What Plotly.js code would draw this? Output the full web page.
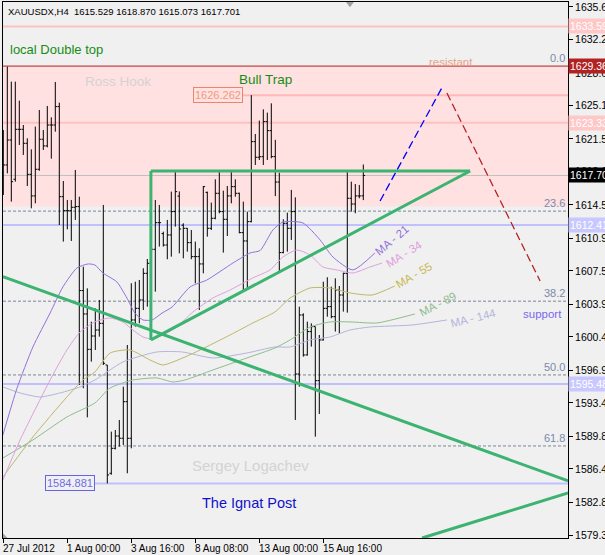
<!DOCTYPE html>
<html><head><meta charset="utf-8">
<script src="https://cdn.plot.ly/plotly-3.0.1.min.js"></script>
<style>html,body{margin:0;padding:0;background:#F0F0F0;}#chart{width:605px;height:555px;}</style>
</head><body><div id="chart"></div>
<script>
// ---- bar data (H4 bars, index 0 = 27 Jul 2012 08:00) ----
const barIdx = [0,1,2,3,4,5,6,7,8,9,10,11,12,13,14,15,16,17,18,19,20,21,22,23,24,25,26,27,28,29,30,31,32,33,34,35,36,37,38,39,40,41,42,43,44,45,46,47,48,49,50,51,52,53,54,55,56,57,58,59,60,61,62,63,64,65,66,67,68,69,70,71,72,73,74,75,76,77,78,79,80,81,82,83,84,85,86,87,88,89,90];
const opens = [1620.5,1618.82,1621.48,1617.3,1622.62,1622.62,1621.13,1617.82,1615.52,1618.36,1621.56,1620.85,1623.08,1623.08,1625.04,1615.44,1613.95,1613.95,1614.31,1614.38,1605.43,1602.94,1599.17,1600.59,1601.23,1601.94,1597.5,1585.96,1588.62,1589.93,1589.69,1593.59,1589.69,1602.3,1603.54,1604.43,1607.27,1608.34,1609.83,1612.67,1611.5,1610.29,1611.36,1613.85,1615.5,1612.4,1612.07,1610.54,1609.05,1609.05,1608.27,1615.9,1612.07,1613.14,1615.8,1613.85,1613.03,1615.52,1616.51,1615.8,1611.61,1610.72,1612.78,1621.31,1619.64,1619.7,1623.44,1622.48,1619.71,1617.0,1609.48,1612.6,1612.07,1613.85,1596.54,1602.83,1598.57,1601.06,1601.59,1595.83,1600.17,1603.54,1603.72,1602.65,1605.5,1604.96,1607.27,1615.27,1614.66,1615.52,1615.529];
const highs = [1622.55,1629.3,1627.7,1627.7,1625.68,1623.08,1621.66,1620.49,1622.91,1624.68,1622.55,1625.11,1623.9,1627.67,1625.46,1617.11,1615.09,1615.09,1618.29,1615.44,1607.98,1605.67,1602.12,1603.54,1604.43,1614.56,1597.5,1590.4,1590.57,1591.64,1595.19,1599.63,1606.21,1606.38,1606.56,1607.81,1608.8,1610.12,1615.09,1614.56,1611.71,1612.96,1615.98,1618.11,1616.0,1612.6,1612.1,1611.89,1610.65,1609.94,1616.58,1615.98,1614.81,1617.29,1618.18,1616.08,1616.58,1618.11,1617.29,1615.87,1614.91,1613.85,1626.262,1622.12,1623.55,1624.75,1624.4,1625.39,1621.5,1618.0,1613.03,1613.74,1616.16,1615.37,1603.72,1603.01,1602.12,1601.94,1601.59,1600.7,1606.38,1606.85,1605.85,1606.74,1605.92,1607.34,1618.11,1617.04,1616.79,1616.69,1618.87];
const lows = [1615.62,1617.93,1614.91,1617.04,1620.95,1619.89,1616.58,1614.2,1614.73,1618.2,1620.42,1620.7,1619.49,1622.37,1612.42,1610.65,1611.96,1610.72,1612.96,1595.37,1595.02,1591.92,1597.86,1599.1,1600.52,1597.5,1584.881,1585.8,1588.5,1588.8,1588.98,1585.96,1588.62,1601.59,1601.94,1603.36,1603.72,1605.5,1605.32,1610.12,1610.12,1608.77,1609.05,1612.25,1609.4,1608.87,1609.58,1608.77,1606.21,1603.36,1607.27,1611.18,1611.89,1613.03,1613.67,1609.48,1611.25,1614.73,1615.44,1611.54,1605.5,1605.67,1612.7,1618.82,1619.35,1618.82,1619.35,1619.53,1615.5,1607.45,1609.4,1609.58,1610.83,1591.64,1595.19,1598.39,1598.5,1599.46,1589.86,1592.28,1600.1,1602.65,1602.48,1601.06,1600.88,1603.19,1603.08,1613.85,1613.67,1615.27,1615.073];
const closes = [1618.82,1621.48,1617.04,1622.62,1622.62,1621.13,1617.82,1615.52,1618.36,1621.56,1620.85,1623.08,1623.08,1625.04,1615.44,1613.95,1613.95,1614.31,1614.38,1605.43,1602.94,1599.17,1600.59,1601.23,1601.94,1597.68,1585.78,1588.62,1589.93,1589.69,1593.59,1589.69,1602.3,1603.54,1604.43,1607.27,1608.34,1609.83,1612.67,1612.67,1610.29,1611.36,1613.85,1615.98,1612.0,1612.07,1610.54,1609.05,1609.05,1608.27,1616.51,1612.07,1613.14,1615.8,1613.85,1613.03,1615.52,1616.51,1615.8,1611.61,1610.72,1612.78,1621.31,1619.64,1619.7,1623.44,1622.48,1619.71,1617.0,1609.48,1612.6,1612.07,1613.85,1596.54,1602.83,1598.57,1601.06,1601.59,1595.83,1600.17,1603.54,1603.72,1602.65,1605.5,1604.96,1607.27,1615.27,1614.66,1615.52,1615.52,1617.701];

// ---- moving averages (bar index, price) ----
const ma21X = [-0.1,3.4,7.4,11.7,14.9,18.4,21.2,22.9,24.9,28.4,30.9,32.9,34.9,37.2,39.7,42.2,46.7,50.9,57.4,61.7,64.2,67.4,69.9,74.9,79.2,82.4,87.4,92.9];
const ma21Y = [1590.04,1594.99,1599.42,1603.04,1605.82,1607.84,1608.27,1608.16,1607.31,1606.35,1604.64,1603.04,1602.30,1602.30,1603.04,1603.68,1605.82,1606.56,1608.37,1609.44,1609.7,1611.89,1612.74,1612.64,1610.83,1609.01,1607.63,1609.44];
const ma34X = [-0.1,4.2,11.7,15.9,19.2,22.9,26.7,29.9,32.4,34.9,37.2,39.9,43.4,47.4,52.4,56.7,62.4,66.7,69.9,73.4,76.7,79.9,83.4,87.4,91.7,94.7];
const ma34Y = [1585.24,1589.51,1595.90,1599.10,1601.02,1602.09,1602.51,1602.09,1601.23,1600.49,1600.27,1600.70,1601.55,1603.15,1604.64,1605.50,1606.78,1607.63,1609.01,1609.76,1609.22,1607.95,1607.63,1607.31,1607.95,1608.37];
const ma55X = [-0.1,7.4,15.9,19.9,22.9,26.7,31.7,36.7,39.9,45.4,49.2,56.7,62.4,67.9,71.7,76.7,81.7,86.7,92.2,97.9];
const ma55Y = [1585.56,1589.83,1594.09,1595.90,1596.76,1598.78,1599.10,1598.03,1597.50,1598.35,1599.10,1600.70,1601.98,1603.15,1604.64,1605.71,1605.71,1605.18,1604.96,1605.92];
const ma89X = [-0.1,7.4,15.9,22.9,26.7,32.4,38.4,42.4,45.4,52.4,60.9,67.9,71.7,76.7,81.7,86.7,93.4,102.9];
const ma89Y = [1587.59,1589.51,1591.96,1593.45,1595.05,1595.90,1596.12,1595.69,1595.90,1596.97,1598.25,1599.31,1600.17,1601.55,1602.09,1602.09,1601.98,1602.94];
const ma144X = [-0.1,4.2,9.2,14.2,19.2,22.9,29.9,38.4,44.7,52.4,60.9,67.9,71.7,76.7,81.7,86.7,91.7,102.4,110.9];
const ma144Y = [1595.16,1594.52,1594.09,1594.52,1595.16,1595.90,1597.82,1598.89,1598.89,1598.25,1598.78,1599.42,1599.42,1600.17,1600.49,1601.23,1601.55,1601.77,1602.30];

// ---- axis ticks ----
const yTicks = [1635.66,1632.20,1628.63,1625.16,1621.59,1618.12,1614.56,1610.99,1607.52,1603.95,1600.49,1596.92,1593.45,1589.88,1586.42,1582.85,1579.38];
const xTickBars = [0,16,32,48,64,80];
const xTickText = ['27 Jul 2012','1 Aug 00:00','3 Aug 16:00','8 Aug 08:00','13 Aug 00:00','15 Aug 16:00'];

// ---- levels / objects ----
const resistTop = 1629.36, resistBottom = 1614.4;
const pinkLevels = [1633.59, 1623.33];
const blueLevels = [1612.41, 1595.48];
const bidPrice = 1617.70;
const highMark = 1626.262, lowMark = 1584.881;
const fibNames = ['23.6','38.2','50.0','61.8'];
const fibPrices = [1613.90,1604.30,1596.44,1588.87];
// trendlines [x0,y0,x1,y1]
const downTrend = [-0.1,1606.91,141.2,1585.14];
const upTrend = [104.7,1579.06,141.2,1583.86];
const trapLeft = 36.9, trapRight = 116.7, trapTop = 1618.18, trapBottom = 1600.17;
const fcUp = [94.2,1614.98,109.9,1627.24];
const fcDown = [110.9,1626.49,134.2,1606.46];

const F = 'Liberation Sans, Arial, sans-serif';
const maColors = {21:'#9370DB',34:'#DDA0DD',55:'#BDB76B',89:'#8FBC8F',144:'#B4B4DC'};

function maTrace(x,y,c){return {type:'scatter',mode:'lines',x:x,y:y,line:{color:c,width:1,shape:'spline',smoothing:0.6},hoverinfo:'skip',showlegend:false};}

const traces = [
  maTrace(ma144X,ma144Y,maColors[144]),
  maTrace(ma89X,ma89Y,maColors[89]),
  maTrace(ma55X,ma55Y,maColors[55]),
  maTrace(ma34X,ma34Y,maColors[34]),
  maTrace(ma21X,ma21Y,maColors[21]),
  {type:'ohlc',x:barIdx,open:opens,high:highs,low:lows,close:closes,
   increasing:{line:{color:'#000000',width:1}},decreasing:{line:{color:'#000000',width:1}},
   tickwidth:0.45,hoverinfo:'skip',showlegend:false}
];

const shapes = [];
shapes.push({type:'rect',xref:'paper',x0:0,x1:1,yref:'y',y0:resistBottom,y1:resistTop,fillcolor:'#FFE1E1',line:{width:0},layer:'below'});
fibPrices.forEach(p=>shapes.push({type:'line',xref:'paper',x0:0,x1:1,yref:'y',y0:p,y1:p,line:{color:'#7A8699',width:1,dash:'3px,2px'},layer:'below'}));
pinkLevels.forEach(p=>shapes.push({type:'line',xref:'paper',x0:0,x1:1,yref:'y',y0:p,y1:p,line:{color:'#FFC0C0',width:2},layer:'below'}));
blueLevels.forEach(p=>shapes.push({type:'line',xref:'paper',x0:0,x1:1,yref:'y',y0:p,y1:p,line:{color:'#C0C0FF',width:2},layer:'below'}));
shapes.push({type:'line',xref:'x',x0:59.7,x1:141.2,yref:'y',y0:highMark,y1:highMark,line:{color:'#FFB8B8',width:2},layer:'below'});
shapes.push({type:'line',xref:'x',x0:22.4,x1:141.2,yref:'y',y0:lowMark,y1:lowMark,line:{color:'#C0C0FF',width:2},layer:'below'});
shapes.push({type:'line',xref:'paper',x0:0,x1:1,yref:'y',y0:bidPrice,y1:bidPrice,line:{color:'#C0C0C0',width:1},layer:'below'});
shapes.push({type:'line',xref:'paper',x0:0,x1:1,yref:'y',y0:resistTop,y1:resistTop,line:{color:'#B22222',width:1},layer:'below'});
const G = {color:'#3CB371',width:3};
shapes.push({type:'line',x0:downTrend[0],y0:downTrend[1],x1:downTrend[2],y1:downTrend[3],line:G});
shapes.push({type:'line',x0:upTrend[0],y0:upTrend[1],x1:upTrend[2],y1:upTrend[3],line:G});
shapes.push({type:'line',x0:trapLeft,y0:trapBottom,x1:trapLeft,y1:trapTop,line:G});
shapes.push({type:'line',x0:trapLeft,y0:trapTop,x1:trapRight,y1:trapTop,line:G});
shapes.push({type:'line',x0:trapLeft,y0:trapBottom,x1:trapRight,y1:trapTop,line:G});
shapes.push({type:'line',x0:fcUp[0],y0:fcUp[1],x1:fcUp[2],y1:fcUp[3],line:{color:'#0000FF',width:1.3,dash:'8px,4px'}});
shapes.push({type:'line',x0:fcDown[0],y0:fcDown[1],x1:fcDown[2],y1:fcDown[3],line:{color:'#B22222',width:1.3,dash:'8px,4px'}});
shapes.push({type:'path',xref:'paper',yref:'paper',path:'M 0.607 1 L 0.621 1 L 0.614 0.99 Z',fillcolor:'#A0A0A0',line:{width:0}});
shapes.push({type:'path',xref:'paper',yref:'paper',path:'M 0 0 L 0.008 0 L 0 0.009 Z',fillcolor:'#A0A0A0',line:{width:0}});

const ann = [];
function txt(x,y,t,c,s,extra){ann.push(Object.assign({x:x,y:y,text:t,showarrow:false,xanchor:'left',yanchor:'middle',font:{family:F,size:s,color:c}},extra||{}));}
txt(0,1,'XAUUSDX,H4\u00A0\u00A01615.529 1618.870 1615.073 1617.701','#000000',9.5,{xref:'paper',yref:'paper',xshift:3,yshift:-2,yanchor:'top'});
txt(1.2,1631.08,'local Double top','#168C16',13);
txt(19.9,1627.67,'Ross Hook','#D3D3D3',13.5);
txt(58.4,1627.88,'Bull Trap','#168C16',13.5);
txt(105.9,1629.80,'resistant','#E9A088',11.5);
txt(129.4,1602.94,'support','#7B68EE',11.5);
txt(46.7,1586.74,'Sergey Logachev','#D3D3D3',15);
txt(49.2,1582.79,'The Ignat Post','#1010CD',14.5);
// x-axis date labels, left-aligned at their ticks (MT4 style)
xTickBars.forEach((b,k)=>txt(b,0,xTickText[k],'#000000',10,{yref:'paper',yanchor:'top',xshift:-2,yshift:-3}));
// fib labels
txt(1,resistTop,'0.0','#7A8AAA',11,{xref:'paper',xanchor:'right',yanchor:'bottom',xshift:-1});
fibNames.forEach((n,k)=>txt(1,fibPrices[k],n,'#7A8AAA',11,{xref:'paper',xanchor:'right',yanchor:'bottom',xshift:-1}));
// MA labels
const maLab = [['MA - 21',97.2,1610.83,-40,maColors[21]],['MA - 34',100.2,1609.33,-32,maColors[34]],['MA - 55',102.7,1607.09,-30,'#C8B850'],['MA - 89',108.7,1604.0,-27,maColors[89]],['MA - 144',117.6,1602.5,-14,maColors[144]]];
maLab.forEach(m=>txt(m[1],m[2],m[0],m[4],11.5,{xanchor:'center',textangle:m[3]}));
// price marks
txt(53.7,highMark,'1626.262','#EE9A7A',11,{xanchor:'center',bordercolor:'#E8856A',borderwidth:1,borderpad:1});
txt(16.55,lowMark,'1584.881','#6E6EE8',11,{xanchor:'center',bordercolor:'#6464E6',borderwidth:1,borderpad:1,bgcolor:'#F0F0F0'});
// right-axis price boxes
function box(p,bg){txt(1,p,p.toFixed(2),'#FFFFFF',10.5,{xref:'paper',xanchor:'left',xshift:0,bgcolor:bg,borderpad:1});}
pinkLevels.forEach(p=>box(p,'#FFC8C8'));
blueLevels.forEach(p=>box(p,'#C8C8FF'));
box(resistTop,'#B22222');
box(bidPrice,'#000000');

const layout = {
  width:605,height:555,
  margin:{l:3,r:37,t:2,b:17,pad:0},
  paper_bgcolor:'#F0F0F0',plot_bgcolor:'#F0F0F0',
  showlegend:false,dragmode:false,hovermode:false,
  xaxis:{type:'linear',range:[-0.075,141.175],showgrid:false,zeroline:false,
    tickvals:xTickBars,ticks:'outside',ticklen:4,tickcolor:'#000',showticklabels:false,
    showline:true,linecolor:'#000',linewidth:1,mirror:true,rangeslider:{visible:false},fixedrange:true},
  yaxis:{side:'right',range:[1579.06,1636.19],showgrid:false,zeroline:false,
    tickvals:yTicks,ticktext:yTicks.map(v=>v.toFixed(2)),ticks:'outside',ticklen:4,tickcolor:'#000',
    tickfont:{family:F,size:10.5,color:'#000'},
    showline:true,linecolor:'#000',linewidth:1,mirror:true,fixedrange:true},
  shapes:shapes,annotations:ann
};
Plotly.newPlot('chart',traces,layout,{displayModeBar:false,staticPlot:true});
</script></body></html>
